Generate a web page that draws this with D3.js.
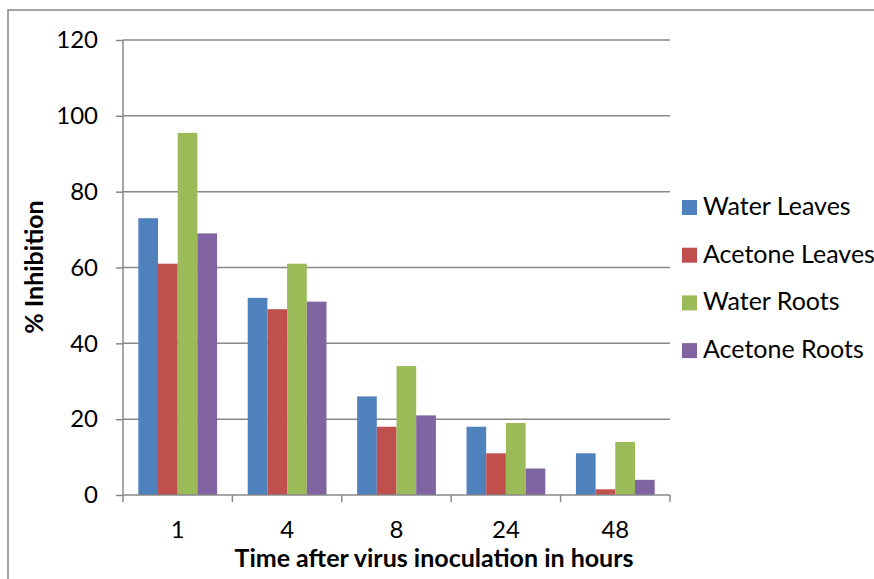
<!DOCTYPE html>
<html>
<head>
<meta charset="utf-8">
<script src="https://cdn.jsdelivr.net/npm/d3@7"></script>
<style>
  body { margin: 0; background: white; }
  text { font-family: Lato, "Open Sans", sans-serif; fill: #000; }
</style>
</head>
<body>
<div id="chart"></div>
<script>
// Data
const hours = ["1", "4", "8", "24", "48"];
const seriesNames = ["Water Leaves", "Acetone Leaves", "Water Roots", "Acetone Roots"];
const waterLeaves = [73, 52, 26, 18, 11];
const acetoneLeaves = [61, 49, 18, 11, 1.5];
const waterRoots = [95.5, 61, 34, 19, 14];
const acetoneRoots = [69, 51, 21, 7, 4];
const yTicks = [0, 20, 40, 60, 80, 100, 120];
const colors = ["#4f81bd", "#c0504d", "#9bbb59", "#8064a2"];

const seriesValues = [waterLeaves, acetoneLeaves, waterRoots, acetoneRoots];

// flatten into rows for drawing
const data = [];
hours.forEach((h, i) => {
  seriesNames.forEach((s, j) => {
    data.push({ hour: h, series: s, value: seriesValues[j][i] });
  });
});

let width = 874,
    height = 579;

let margin = { top: 40, bottom: 84, left: 123, right: 204 };

let svg = d3.select('#chart')
            .append('svg')
            .attr('width', width)
            .attr('height', height)
            .style('background', 'white');

// outer chart frame (runs off the right and bottom)
svg.append('rect')
   .attr('x', 8)
   .attr('y', 10)
   .attr('width', 880)
   .attr('height', 600)
   .attr('fill', 'none')
   .attr('stroke', '#868686')
   .attr('stroke-width', 1.5);

const x0 = d3.scaleBand()
             .domain(hours)
             .range([margin.left, width - margin.right])
             .paddingInner(0)
             .paddingOuter(0);

// bars take up about 72% of each band
const groupW = x0.bandwidth() * 0.72;
const x1 = d3.scaleBand()
             .domain(seriesNames)
             .range([0, groupW]);

const y = d3.scaleLinear()
            .domain([0, 120])
            .range([height - margin.bottom, margin.top]);

const color = d3.scaleOrdinal()
                .domain(seriesNames)
                .range(colors);

// gridlines
svg.append('g')
   .selectAll('line')
   .data(yTicks.filter(t => t > 0))
   .enter()
   .append('line')
   .attr('x1', margin.left)
   .attr('x2', width - margin.right)
   .attr('y1', d => y(d))
   .attr('y2', d => y(d))
   .attr('stroke', '#888')
   .attr('stroke-width', 1.5);

// bars
const offset = (x0.bandwidth() - groupW) / 2;
svg.append('g')
   .selectAll('rect')
   .data(data)
   .enter()
   .append('rect')
   .attr('x', d => x0(d.hour) + offset + x1(d.series))
   .attr('y', d => y(d.value))
   .attr('width', x1.bandwidth())
   .attr('height', d => y(0) - y(d.value))
   .attr('fill', d => color(d.series));

// y axis
let yaxis = svg.append('g')
               .attr('transform', `translate(${margin.left},0)`)
               .call(d3.axisLeft(y).tickValues(yTicks).tickSize(7).tickPadding(18));

// x axis
let xaxis = svg.append('g')
               .attr('transform', `translate(0,${height - margin.bottom})`)
               .call(d3.axisBottom(x0).tickSize(0).tickPadding(26));

// x tick marks sit on the band edges
svg.append('g')
   .selectAll('line')
   .data(hours.concat(['end']))
   .enter()
   .append('line')
   .attr('x1', (d, i) => margin.left + i * x0.bandwidth())
   .attr('x2', (d, i) => margin.left + i * x0.bandwidth())
   .attr('y1', y(0))
   .attr('y2', y(0) + 7)
   .attr('stroke', '#888')
   .attr('stroke-width', 1.5);

[yaxis, xaxis].forEach(ax => {
  ax.selectAll('path, line').attr('stroke', '#888').attr('stroke-width', 1.5);
  ax.selectAll('text').attr('font-size', '24px').attr('fill', '#000')
    .style('font-family', 'Lato, sans-serif');
});
yaxis.select('.domain').attr('d', `M0,${y(120)}V${y(0)}`);
xaxis.select('.domain').attr('d', `M${margin.left},0H${width - margin.right}`);

// axis titles
svg.append('text')
   .attr('x', 434)
   .attr('y', 567)
   .attr('text-anchor', 'middle')
   .attr('font-size', '25px')
   .attr('font-weight', 'bold')
   .text('Time after virus inoculation in hours');

svg.append('text')
   .attr('transform', 'translate(43,267) rotate(-90)')
   .attr('text-anchor', 'middle')
   .attr('font-size', '25px')
   .attr('font-weight', 'bold')
   .text('% Inhibition');

// legend
const legend = svg.append('g')
                  .attr('transform', 'translate(682,200)');

seriesNames.forEach((s, i) => {
  legend.append('rect')
        .attr('x', 0)
        .attr('y', i * 47.7)
        .attr('width', 15)
        .attr('height', 15)
        .attr('fill', color(s));

  legend.append('text')
        .attr('x', 21)
        .attr('y', i * 47.7 + 15)
        .attr('font-size', '25px')
        .text(s);
});
</script>
</body>
</html>
